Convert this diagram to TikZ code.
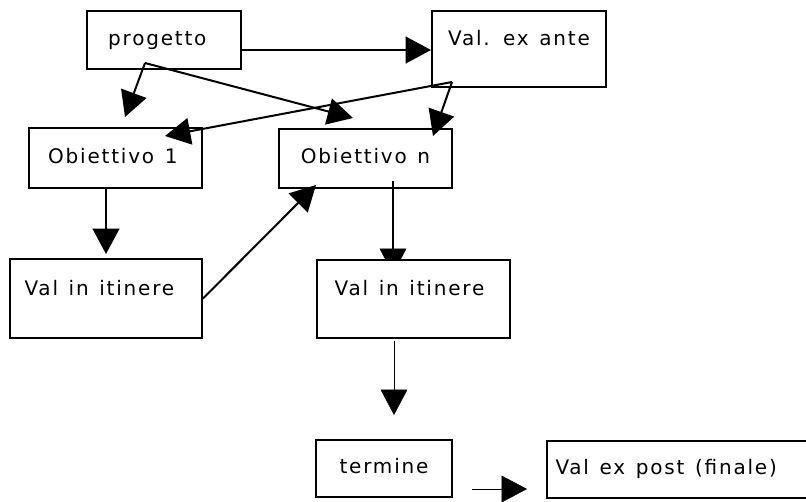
\documentclass[tikz,border=0pt]{standalone}
\usepackage{fontspec}
\setmainfont{DejaVu Sans}[LetterSpace=9, WordSpace=1.3]
\usepackage{tikz}
\usetikzlibrary{arrows.meta, calc, backgrounds}

\begin{document}
\begin{tikzpicture}[x=0.75pt, y=-0.75pt, line width=1.5pt,
    >={Triangle[length=19pt, width=20pt]},
    box/.style={draw, fill=white, inner sep=0pt, font=\fontsize{15}{18}\selectfont,
        text height=11pt, text depth=3pt},
    alto/.style={text depth=16pt}]
    \useasboundingbox (0,0) rectangle (806,501);
    \clip (0,0) rectangle (806,501);

    % Riquadri
    \node[box, minimum width=115.5pt, minimum height=43.5pt] (prog) at (164,40) {\hspace*{-10pt}progetto};
    \node[box, alto, minimum width=130.5pt, minimum height=57pt] (exante) at (519,49) {Val. ex ante};
    \node[box, minimum width=129.75pt, minimum height=45pt] (ob1) at (115.5,158) {\hspace*{-4pt}Obiettivo 1};
    \node[box, minimum width=129.75pt, minimum height=44.25pt] (obn) at (365.5,158.5) {Obiettivo n};
    \node[box, alto, minimum width=144pt, minimum height=59.25pt] (itA) at (106,298.5) {\hspace*{-10pt}Val in itinere};
    \node[box, alto, minimum width=144.75pt, minimum height=58.5pt] (itB) at (413.5,299) {\hspace*{-6pt}Val in itinere};
    \node[box, minimum width=102pt, minimum height=42.75pt] (term) at (384,468.5) {termine};
    \node[box, minimum width=234.75pt, minimum height=42.75pt] (expost) at (703.5,469.5)
        {\hspace*{-56pt}Val ex post (finale)};

    % Frecce
    \coordinate (pe) at ($(prog.east)+(0,10)$);
    \draw[->] (pe) -- (pe -| exante.west);
    \draw[->] ($(prog.south)+(-19,-7)$) -- ($(ob1.north)+(9.5,-10)$);
    \draw[->] ($(prog.south)+(-19,-7)$) -- ($(obn.north)+(-12.5,-10)$);
    \draw[->] ($(exante.south)+(-67,-6)$) -- ($(ob1.north)+(49.5,9)$);
    \draw[->] ($(exante.south)+(-67,-6)$) -- ($(obn.north)+(67.5,8)$);
    \draw[->] (ob1.south -| itA.north) -- ($(itA.north)+(0,-4)$);
    \draw[->] (itA.east) -- ($(obn.south)+(-49.5,-4)$);
    % punta coperta dal riquadro
    \coordinate (on) at ($(obn.south)+(27.5,-8)$);
    \draw (on) -- (on |- itB.north);
    \begin{pgfonlayer}{background}
        \fill[white] (0,0) rectangle (806,501);
        \draw[->] (on) -- ($(itB.north)+(-20.5,15)$);
    \end{pgfonlayer}
    \draw[->] ($(itB.south)+(-19.5,2)$) -- ($(term.north)+(10,-24)$);
    \draw[->] ($(term.east)+(19,20.5)$) -- ($(expost.west)+(-19,19.5)$);
\end{tikzpicture}
\end{document}
